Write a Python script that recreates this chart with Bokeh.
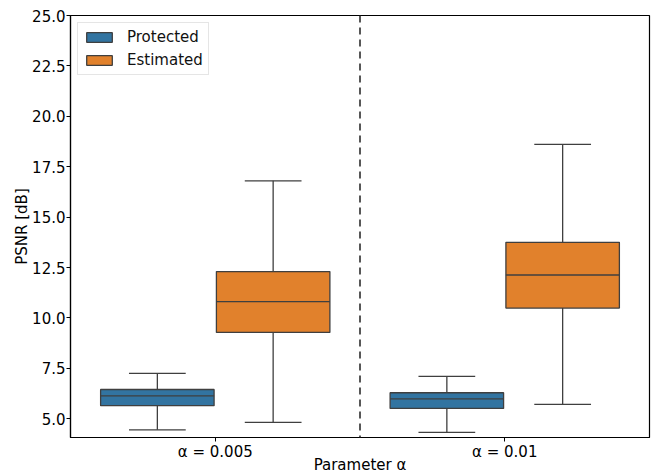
from bokeh.plotting import figure
from bokeh.models import ColumnDataSource, FixedTicker, Span, Legend, LegendItem
from bokeh.transform import dodge
from bokeh.embed import file_html
from bokeh.resources import INLINE

categories = ["α = 0.005", "α = 0.01"]
cat_index = [0, 1]

# Protected
prot_low = [4.45, 4.32]
prot_q1 = [5.65, 5.51]
prot_med = [6.13, 5.99]
prot_q3 = [6.45, 6.29]
prot_high = [7.25, 7.10]

# Estimated
est_low = [4.82, 5.71]
est_q1 = [9.28, 10.49]
est_med = [10.81, 12.13]
est_q3 = [12.30, 13.75]
est_high = [16.80, 18.61]

y_ticks = [5.0, 7.5, 10.0, 12.5, 15.0, 17.5, 20.0, 22.5, 25.0]

BLUE = "#3274A1"
ORANGE = "#E1812C"
EDGE = "#3f3f3f"
FONT = "DejaVu Sans"

p = figure(frame_width=579, frame_height=422, output_backend="svg", toolbar_location=None,
           x_range=(-0.5, 1.5), y_range=(4.07, 25.0),
           min_border_left=70, min_border_top=15, min_border_right=5, min_border_bottom=34)
p.xgrid.visible = False
p.ygrid.visible = False
p.outline_line_color = "black"
p.outline_line_width = 1.2
p.background_fill_color = "white"
p.border_fill_color = "white"

box_w = 0.392
offset = 0.2

legend_items = []
for name, color, off, low, q1, med, q3, high in [
    ("Protected", BLUE, -offset, prot_low, prot_q1, prot_med, prot_q3, prot_high),
    ("Estimated", ORANGE, offset, est_low, est_q1, est_med, est_q3, est_high),
]:
    src = ColumnDataSource(dict(x=cat_index, low=low, q1=q1, med=med, q3=q3, high=high))
    # whiskers
    p.segment(x0=dodge("x", off, range=p.x_range), y0="q3", x1=dodge("x", off, range=p.x_range), y1="high",
              source=src, line_color=EDGE, line_width=1.3)
    p.segment(x0=dodge("x", off, range=p.x_range), y0="q1", x1=dodge("x", off, range=p.x_range), y1="low",
              source=src, line_color=EDGE, line_width=1.3)
    # caps
    p.segment(x0=dodge("x", off - box_w / 4, range=p.x_range), y0="high",
              x1=dodge("x", off + box_w / 4, range=p.x_range), y1="high",
              source=src, line_color=EDGE, line_width=1.3)
    p.segment(x0=dodge("x", off - box_w / 4, range=p.x_range), y0="low",
              x1=dodge("x", off + box_w / 4, range=p.x_range), y1="low",
              source=src, line_color=EDGE, line_width=1.3)
    # box
    r = p.vbar(x=dodge("x", off, range=p.x_range), width=box_w, bottom="q1", top="q3", source=src,
               fill_color=color, line_color=EDGE, line_width=1.3)
    # median
    p.segment(x0=dodge("x", off - box_w / 2, range=p.x_range), y0="med",
              x1=dodge("x", off + box_w / 2, range=p.x_range), y1="med",
              source=src, line_color=EDGE, line_width=1.3)
    legend_items.append(LegendItem(label=name, renderers=[r]))

p.add_layout(Span(location=0.5, dimension="height", line_color="#444444", line_width=1.8, line_dash="7 5"))

legend = Legend(items=legend_items, location="top_left")
legend.label_text_font = FONT
legend.label_text_font_size = "15px"
legend.label_text_color = "#111111"
legend.glyph_width = 32
legend.glyph_height = 12
legend.label_height = 18
legend.label_standoff = 12
legend.spacing = 5
legend.padding = 5
legend.margin = 7
legend.border_line_color = "#cccccc"
legend.border_line_width = 1
legend.background_fill_alpha = 0.8
p.add_layout(legend)

p.xaxis.ticker = FixedTicker(ticks=cat_index)
p.xaxis.major_label_overrides = {i: c for i, c in zip(cat_index, categories)}
p.yaxis.ticker = FixedTicker(ticks=y_ticks)
p.yaxis.major_label_overrides = {t: f"{t:.1f}" for t in y_ticks}
p.xaxis.axis_label = "Parameter α"
p.yaxis.axis_label = "PSNR [dB]"

for ax in (p.xaxis[0], p.yaxis[0]):
    ax.minor_tick_line_color = None
    ax.major_tick_in = 0
    ax.major_tick_out = 4
    ax.major_tick_line_color = "black"
    ax.axis_line_color = "black"
    ax.axis_line_width = 1.2
    ax.major_label_text_font = FONT
    ax.major_label_text_font_size = "15px"
    ax.major_label_text_color = "black"
    ax.axis_label_text_font = FONT
    ax.axis_label_text_font_size = "15px"
    ax.axis_label_text_font_style = "normal"
    ax.axis_label_text_color = "black"

p.xaxis.major_label_standoff = 1
p.xaxis.axis_label_standoff = -8
p.yaxis.major_label_standoff = 1
p.yaxis.axis_label_standoff = -2

open("out.html", "w").write(file_html(p, INLINE))
